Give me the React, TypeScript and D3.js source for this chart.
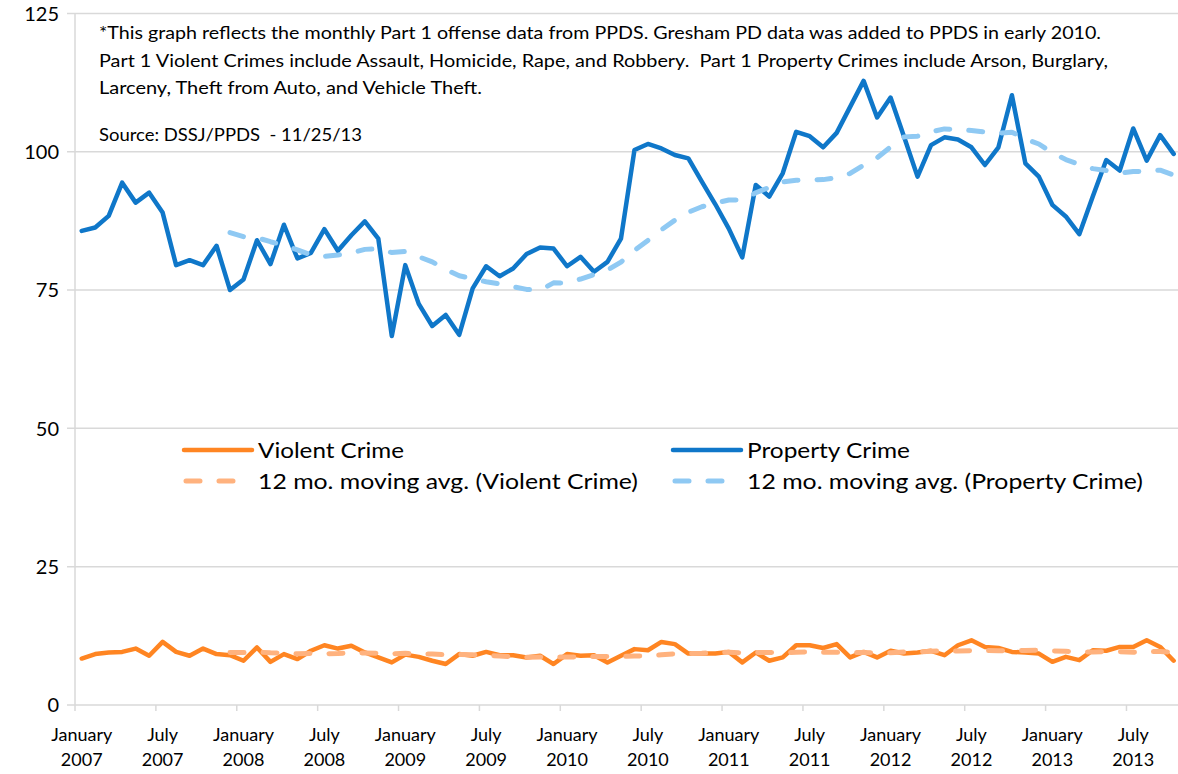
import React, { useEffect, useRef } from 'react';
import * as d3 from 'd3';

// monthly Part 1 offenses, January 2007 .. October 2013
const propertyCrime = [
  85.7, 86.3, 88.4, 94.4, 90.8, 92.6, 89.0, 79.5, 80.4, 79.5, 83.0, 75.0,
  76.9, 84.0, 79.7, 86.8, 80.7, 81.7, 86.0, 82.1, 84.9, 87.4, 84.3, 66.7,
  79.5, 72.5, 68.5, 70.5, 66.9, 75.3, 79.3, 77.5, 78.9, 81.5, 82.7, 82.5,
  79.3, 81.0, 78.3, 80.1, 84.3, 100.3, 101.4, 100.6, 99.4, 98.8, 94.6, 90.5,
  86.1, 80.9, 94.0, 91.9, 96.1, 103.6, 102.8, 100.8, 103.4, 108.1, 112.8, 106.2,
  109.8, 102.7, 95.5, 101.2, 102.6, 102.2, 100.8, 97.6, 100.8, 110.2, 97.9, 95.5,
  90.4, 88.3, 85.1, 91.9, 98.5, 96.6, 104.2, 98.4, 103.0, 99.6,
];

const violentCrime = [
  8.4, 9.2, 9.5, 9.6, 10.2, 8.9, 11.4, 9.6, 8.9, 10.2, 9.2, 9.0,
  8.0, 10.4, 7.8, 9.2, 8.3, 9.8, 10.8, 10.2, 10.7, 9.5, 8.6, 7.7,
  9.1, 8.7, 8.0, 7.4, 9.2, 8.9, 9.6, 9.0, 9.0, 8.6, 8.9, 7.4,
  9.2, 8.9, 9.0, 7.7, 8.9, 10.1, 9.9, 11.4, 11.0, 9.3, 9.3, 9.3,
  9.6, 7.7, 9.5, 8.0, 8.6, 10.8, 10.8, 10.3, 11.0, 8.6, 9.6, 8.6,
  9.8, 9.3, 9.5, 9.8, 9.0, 10.8, 11.7, 10.5, 10.3, 9.6, 9.5, 9.3,
  7.8, 8.7, 8.1, 9.9, 9.8, 10.5, 10.5, 11.7, 10.5, 8.0,
];

const yTicks = [0, 25, 50, 75, 100, 125];

const tickLabels = [
  ['January', '2007'], ['July', '2007'], ['January', '2008'], ['July', '2008'],
  ['January', '2009'], ['July', '2009'], ['January', '2010'], ['July', '2010'],
  ['January', '2011'], ['July', '2011'], ['January', '2012'], ['July', '2012'],
  ['January', '2013'], ['July', '2013'],
];

const noteLines = [
  '*This graph reflects the monthly Part 1 offense data from PPDS. Gresham PD data was added to PPDS in early 2010.',
  'Part 1 Violent Crimes include Assault, Homicide, Rape, and Robbery.  Part 1 Property Crimes include Arson, Burglary,',
  'Larceny, Theft from Auto, and Vehicle Theft.',
  'Source: DSSJ/PPDS  - 11/25/13',
];

const seriesNames = ['Violent Crime', 'Property Crime'];
const avgNames = ['12 mo. moving avg. (Violent Crime)', '12 mo. moving avg. (Property Crime)'];

const ORANGE = '#FF8522';
const ORANGE_AVG = '#FFB27E';
const BLUE = '#0F77C9';
const BLUE_AVG = '#8FC9F3';
const FONT = 'Lato, "Open Sans", sans-serif';

// Excel style trailing moving average
const movingAvg = (values: number[], n: number) =>
  values.map((v, i) => (i < n - 1 ? null : d3.mean(values.slice(i - n + 1, i + 1)) as number));

const CrimeChart = () => {
  const ref = useRef<SVGSVGElement>(null);

  useEffect(() => {
    const svg = d3.select(ref.current);
    svg.selectAll('*').remove();

    const left = 75;
    const right = 1180.4;
    const x = d3.scaleBand<number>()
      .domain(d3.range(propertyCrime.length))
      .range([left, right]);
    const bw = x.bandwidth();
    const cx = (i: number) => (x(i) as number) + bw / 2;

    const y = d3.scaleLinear().domain([0, 125]).range([705, 13.4]);

    // 그리드
    svg.append('g')
      .selectAll('line')
      .data(yTicks)
      .enter()
      .append('line')
      .attr('x1', left - 8)
      .attr('x2', 1178)
      .attr('y1', d => y(d))
      .attr('y2', d => y(d))
      .attr('stroke', '#D9D9D9')
      .attr('stroke-width', 1.5);

    svg.append('line')
      .attr('x1', left)
      .attr('x2', left)
      .attr('y1', y(0))
      .attr('y2', y(125))
      .attr('stroke', '#D9D9D9')
      .attr('stroke-width', 1.5);

    svg.append('g')
      .selectAll('text')
      .data(yTicks)
      .enter()
      .append('text')
      .attr('x', 59)
      .attr('y', d => y(d))
      .attr('dy', '0.36em')
      .attr('text-anchor', 'end')
      .style('font-family', FONT)
      .style('font-size', '20px')
      .style('fill', '#000')
      .text(d => d);

    // x축 눈금 (6개월 간격)
    const xTickIdx = tickLabels.map((_, k) => k * 6);
    svg.append('g')
      .selectAll('line')
      .data(xTickIdx)
      .enter()
      .append('line')
      .attr('x1', d => x(d) as number)
      .attr('x2', d => x(d) as number)
      .attr('y1', y(0))
      .attr('y2', y(0) + 6)
      .attr('stroke', '#D9D9D9')
      .attr('stroke-width', 1.5);

    const xl = svg.append('g')
      .selectAll('text')
      .data(tickLabels)
      .enter()
      .append('text')
      .attr('text-anchor', 'middle')
      .style('font-family', FONT)
      .style('font-size', '18px')
      .style('fill', '#000');
    xl.append('tspan')
      .attr('x', (d, k) => cx(k * 6))
      .attr('y', 741)
      .text(d => d[0]);
    xl.append('tspan')
      .attr('x', (d, k) => cx(k * 6))
      .attr('y', 766)
      .text(d => d[1]);

    // 주석
    const noteY = [39, 67, 94, 141];
    const noteW = [1002, 1009, 383, 263];
    noteLines.forEach((t, i) => {
      svg.append('text')
        .attr('x', 99)
        .attr('y', noteY[i])
        .attr('textLength', noteW[i])
        .attr('lengthAdjust', 'spacingAndGlyphs')
        .style('font-family', FONT)
        .style('font-size', '17px')
        .style('fill', '#000')
        .style('white-space', 'pre')
        .text(t);
    });

    const line = d3.line<number | null>()
      .defined(d => d != null)
      .x((d, i) => cx(i))
      .y(d => y(d as number));

    const drawSeries = (values: (number | null)[], color: string, dashed: boolean) => {
      svg.append('path')
        .datum(values)
        .attr('fill', 'none')
        .attr('stroke', color)
        .attr('stroke-width', dashed ? 5 : 4.5)
        .attr('stroke-linejoin', 'round')
        .attr('stroke-linecap', 'round')
        .attr('stroke-dasharray', dashed ? '14 19' : null)
        .attr('d', line);
    };

    drawSeries(violentCrime, ORANGE, false);
    drawSeries(propertyCrime, BLUE, false);
    drawSeries(movingAvg(violentCrime, 12), ORANGE_AVG, true);
    drawSeries(movingAvg(propertyCrime, 12), BLUE_AVG, true);

    // 범례
    const legend = [
      { name: seriesNames[0], color: ORANGE, dashed: false, x: 184, y: 450, w: 146 },
      { name: seriesNames[1], color: BLUE, dashed: false, x: 673, y: 450, w: 163 },
      { name: avgNames[0], color: ORANGE_AVG, dashed: true, x: 184, y: 481, w: 380 },
      { name: avgNames[1], color: BLUE_AVG, dashed: true, x: 673, y: 481, w: 396 },
    ];
    legend.forEach(item => {
      svg.append('line')
        .attr('x1', item.x + (item.dashed ? 2 : 0))
        .attr('x2', item.x + 68)
        .attr('y1', item.y)
        .attr('y2', item.y)
        .attr('stroke', item.color)
        .attr('stroke-width', item.dashed ? 5 : 4.5)
        .attr('stroke-linecap', 'round')
        .attr('stroke-dasharray', item.dashed ? '14 19' : null);
      svg.append('text')
        .attr('x', item.x + 74)
        .attr('y', item.y + 8)
        .attr('textLength', item.w)
        .attr('lengthAdjust', 'spacingAndGlyphs')
        .style('font-family', FONT)
        .style('font-size', '22px')
        .style('fill', '#000')
        .text(item.name);
    });
  }, []);

  return (
    <svg
      ref={ref}
      width={1178}
      height={774}
      style={{ position: 'fixed', left: 0, top: 0, background: '#fff' }}
    />
  );
};

export default function App() {
  return <CrimeChart />;
}
